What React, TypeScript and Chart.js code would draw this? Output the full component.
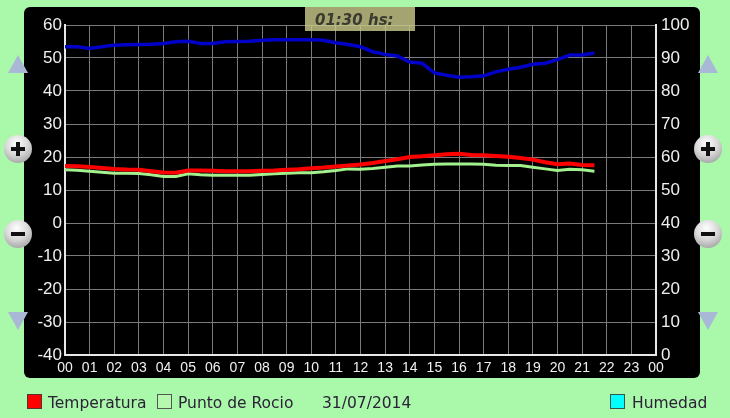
import React, { useEffect, useRef } from "react";
import { Chart, registerables } from "chart.js";

Chart.register(...registerables);

// Hours of the day (x values)
const hours = [
  0, 0.5, 1, 1.5, 2, 2.5, 3, 3.5, 4, 4.5, 5, 5.5, 6, 6.5, 7, 7.5, 8, 8.5, 9, 9.5, 10, 10.5,
  11, 11.5, 12, 12.5, 13, 13.5, 14, 14.5, 15, 15.5, 16, 16.5, 17, 17.5, 18, 18.5, 19, 19.5,
  20, 20.5, 21, 21.5,
];

// Temperatura (°C, left axis)
const temperatura = [
  17.3, 17.2, 17.0, 16.7, 16.4, 16.2, 16.1, 15.7, 15.3, 15.2, 15.9, 15.9, 15.8, 15.7, 15.7,
  15.7, 15.8, 15.9, 16.1, 16.3, 16.6, 16.8, 17.1, 17.4, 17.7, 18.2, 18.8, 19.3, 20.0, 20.2,
  20.5, 20.8, 21.0, 20.6, 20.5, 20.3, 20.1, 19.7, 19.2, 18.4, 17.8, 18.0, 17.6, 17.5,
];

// Punto de Rocio (°C, left axis)
const puntoRocio = [
  16.1, 16.0, 15.7, 15.4, 15.1, 15.1, 15.0, 14.6, 14.1, 14.1, 14.9, 14.6, 14.5, 14.5, 14.5,
  14.5, 14.7, 14.9, 15.1, 15.2, 15.2, 15.5, 15.9, 16.4, 16.3, 16.5, 16.9, 17.3, 17.3, 17.6,
  17.8, 17.9, 17.9, 17.9, 17.8, 17.5, 17.4, 17.4, 16.9, 16.4, 15.9, 16.3, 16.1, 15.7,
];

// Humedad (%, right axis)
const humedad = [
  93.4, 93.4, 92.9, 93.4, 93.9, 94.0, 94.1, 94.2, 94.4, 94.9, 95.1, 94.4, 94.4, 94.9, 95.0,
  95.1, 95.4, 95.5, 95.5, 95.5, 95.5, 95.4, 94.6, 94.1, 93.4, 91.9, 91.1, 90.6, 88.8, 88.4,
  85.5, 84.8, 84.2, 84.3, 84.6, 85.8, 86.6, 87.2, 88.1, 88.4, 89.5, 90.9, 90.9, 91.5,
];

const hourLabels = [
  "00", "01", "02", "03", "04", "05", "06", "07", "08", "09", "10", "11", "12",
  "13", "14", "15", "16", "17", "18", "19", "20", "21", "22", "23", "00",
];

const dateLabel = "31/07/2014";
const timeLabel = "01:30 hs:";

const BG = "#aaf8aa";

function Triangle({ x, y, up }: { x: number; y: number; up: boolean }) {
  const s: React.CSSProperties = {
    position: "absolute",
    left: x - 10,
    top: y,
    width: 0,
    height: 0,
    borderLeft: "10px solid transparent",
    borderRight: "10px solid transparent",
  };
  if (up) s.borderBottom = "18px solid #a9b8d6";
  else s.borderTop = "18px solid #a9b8d6";
  return <div style={s} />;
}

function RoundButton({ cx, cy, plus }: { cx: number; cy: number; plus: boolean }) {
  const r = 14;
  return (
    <div
      style={{
        position: "absolute",
        left: cx - r,
        top: cy - r,
        width: 2 * r,
        height: 2 * r,
        borderRadius: "50%",
        background: "radial-gradient(circle at 45% 30%, #ffffff 0%, #d8d8d8 45%, #8c8c8c 100%)",
      }}
    >
      <div
        style={{
          position: "absolute",
          left: r - 7,
          top: r - 2,
          width: 14,
          height: 4,
          background: "#111",
        }}
      />
      {plus && (
        <div
          style={{
            position: "absolute",
            left: r - 2,
            top: r - 7,
            width: 4,
            height: 14,
            background: "#111",
          }}
        />
      )}
    </div>
  );
}

function LegendBox({ x, color, border }: { x: number; color: string; border: string }) {
  return (
    <div
      style={{
        position: "absolute",
        left: x,
        top: 394,
        width: 13,
        height: 13,
        background: color,
        border: `1px solid ${border}`,
      }}
    />
  );
}

const legendText: React.CSSProperties = {
  position: "absolute",
  top: 393,
  fontFamily: "'DejaVu Sans', sans-serif",
  fontSize: 15.5,
  lineHeight: "20px",
  color: "#2c2238",
  whiteSpace: "nowrap",
};

export default function App() {
  const canvasRef = useRef<HTMLCanvasElement | null>(null);

  useEffect(() => {
    if (!canvasRef.current) return;
    const pts = (vals: number[]) => hours.map((h, i) => ({ x: h, y: vals[i] }));
    const chart = new Chart(canvasRef.current, {
      type: "line",
      data: {
        datasets: [
          {
            label: "Humedad",
            data: pts(humedad),
            yAxisID: "yR",
            borderColor: "#0000c8",
            borderWidth: 3.5,
            pointRadius: 0,
            tension: 0,
          },
          {
            label: "Temperatura",
            data: pts(temperatura),
            yAxisID: "y",
            borderColor: "#ff0000",
            borderWidth: 4,
            pointRadius: 0,
            tension: 0,
          },
          {
            label: "Punto de Rocio",
            data: pts(puntoRocio),
            yAxisID: "y",
            borderColor: "#a2f08e",
            borderWidth: 3,
            pointRadius: 0,
            tension: 0,
          },
        ],
      },
      options: {
        animation: false,
        responsive: false,
        maintainAspectRatio: false,
        layout: { padding: { left: 24, top: 25, right: 30, bottom: 40 } },
        plugins: { legend: { display: false }, tooltip: { enabled: false } },
        scales: {
          x: {
            type: "linear",
            min: 0,
            max: 24,
            afterFit: (s: any) => {
              s.height = 23;
            },
            ticks: {
              stepSize: 1,
              autoSkip: false,
              maxRotation: 0,
              color: "#f0f0f0",
              padding: 5,
              font: { family: "'Liberation Sans', Arial, sans-serif", size: 14 },
              callback: (v: any) => hourLabels[Math.round(Number(v))] ?? "",
            },
            grid: { color: "#7a7a7a", lineWidth: 1, drawTicks: false },
            border: { color: "#e8e8e8", width: 2 },
          },
          y: {
            position: "left",
            min: -40,
            max: 60,
            afterFit: (s: any) => {
              s.width = 41;
            },
            ticks: {
              stepSize: 10,
              color: "#f0f0f0",
              padding: 3,
              font: { family: "'Liberation Sans', Arial, sans-serif", size: 17 },
            },
            grid: { color: "#7a7a7a", lineWidth: 1, drawTicks: false },
            border: { color: "#e8e8e8", width: 2 },
          },
          yR: {
            position: "right",
            min: 0,
            max: 100,
            afterFit: (s: any) => {
              s.width = 44;
            },
            ticks: {
              stepSize: 10,
              color: "#f0f0f0",
              padding: 5,
              font: { family: "'Liberation Sans', Arial, sans-serif", size: 17 },
            },
            grid: { drawOnChartArea: false, drawTicks: false },
            border: { color: "#e8e8e8", width: 2 },
          },
        },
      },
    });
    return () => chart.destroy();
  }, []);

  return (
    <div
      style={{
        position: "absolute",
        left: 0,
        top: 0,
        width: 730,
        height: 418,
        background: BG,
        overflow: "hidden",
      }}
    >
      <div
        style={{
          position: "absolute",
          left: 24,
          top: 7,
          width: 676,
          height: 371,
          background: "#000",
          borderRadius: 6,
        }}
      />
      <canvas
        ref={canvasRef}
        width={730}
        height={418}
        style={{ position: "absolute", left: 0, top: 0, width: 730, height: 418 }}
      />
      <div
        style={{
          position: "absolute",
          left: 305,
          top: 7,
          width: 110,
          height: 24,
          background: "rgba(205,205,140,0.8)",
          fontFamily: "'DejaVu Sans', sans-serif",
          fontStyle: "italic",
          fontWeight: "bold",
          fontSize: 15,
          lineHeight: "26px",
          color: "#3a3a30",
          paddingLeft: 10,
          boxSizing: "border-box",
          whiteSpace: "nowrap",
        }}
      >
        {timeLabel}
      </div>

      <Triangle x={18} y={55} up={true} />
      <RoundButton cx={18} cy={149} plus={true} />
      <RoundButton cx={18} cy={234} plus={false} />
      <Triangle x={18} y={312} up={false} />

      <Triangle x={708} y={55} up={true} />
      <RoundButton cx={708} cy={149} plus={true} />
      <RoundButton cx={708} cy={234} plus={false} />
      <Triangle x={708} y={312} up={false} />

      <LegendBox x={27} color="#ff0000" border="#553333" />
      <div style={{ ...legendText, left: 48 }}>Temperatura</div>
      <LegendBox x={157} color="#b6f8b0" border="#555555" />
      <div style={{ ...legendText, left: 178 }}>Punto de Rocio</div>
      <div style={{ ...legendText, left: 322 }}>{dateLabel}</div>
      <LegendBox x={610} color="#00ffff" border="#335555" />
      <div style={{ ...legendText, left: 632 }}>Humedad</div>
    </div>
  );
}
